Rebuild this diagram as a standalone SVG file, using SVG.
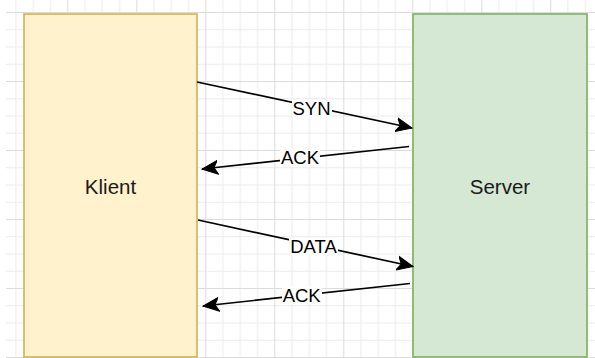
<svg xmlns="http://www.w3.org/2000/svg" width="595" height="358" viewBox="0 0 595 358">
  <style>
    .label { font-family: "Liberation Sans", Arial, sans-serif; fill: #000; text-anchor: middle; dominant-baseline: central; }
    .node-text { font-size: 20.5px; fill: #1a1a1a; }
    .edge-text { font-size: 18.5px; }
    .edge { stroke: #000; stroke-width: 1.7; fill: none; marker-end: url(#arrow); }
    .label-bg { fill: #fff; }
  </style>
  <defs>
    <pattern id="grid" patternUnits="userSpaceOnUse" x="-1.7" y="12" width="69" height="69">
      <rect x="0" y="0" width="69" height="69" fill="#fff"/>
      <g fill="#ececec">
        <rect x="17.25" y="0" width="1" height="69"/>
        <rect x="34.5" y="0" width="1" height="69"/>
        <rect x="51.75" y="0" width="1" height="69"/>
        <rect x="0" y="17.25" width="69" height="1"/>
        <rect x="0" y="34.5" width="69" height="1"/>
        <rect x="0" y="51.75" width="69" height="1"/>
      </g>
      <g fill="#dcdcdc">
        <rect x="0" y="0" width="1" height="69"/>
        <rect x="0" y="0" width="69" height="1"/>
      </g>
    </pattern>
    <marker id="arrow" markerUnits="userSpaceOnUse" markerWidth="18" markerHeight="16" viewBox="0 0 18 16" refX="16" refY="8" orient="auto">
      <path d="M0,1 L16,8 L0,15 L4,8 Z" fill="#000" stroke="#000" stroke-width="1" stroke-linejoin="miter"/>
    </marker>
  </defs>

  <!-- background and drawing grid -->
  <rect x="0" y="0" width="595" height="358" fill="#fff"/>
  <rect x="6" y="0" width="589" height="358" fill="url(#grid)"/>

  <!-- client column -->
  <g id="klient">
    <rect x="24" y="14" width="173" height="343" fill="#fff2cc" stroke="#d6b656" stroke-width="1.7"/>
    <text class="label node-text" x="110.5" y="186">Klient</text>
  </g>

  <!-- server column -->
  <g id="server">
    <rect x="413" y="14" width="174" height="343" fill="#d5e8d4" stroke="#82b366" stroke-width="1.7"/>
    <text class="label node-text" x="500" y="186">Server</text>
  </g>

  <!-- message arrows with labels -->
  <g id="connectors">
    <g id="syn">
      <line class="edge" x1="197" y1="82" x2="412" y2="128"/>
      <rect class="label-bg" x="292" y="100" width="40" height="17"/>
      <text class="label edge-text" x="311.5" y="108.5">SYN</text>
    </g>
    <g id="ack1">
      <line class="edge" x1="409" y1="146.5" x2="202" y2="169"/>
      <rect class="label-bg" x="280" y="149" width="40" height="17"/>
      <text class="label edge-text" x="300" y="157.5">ACK</text>
    </g>
    <g id="data">
      <line class="edge" x1="198" y1="220" x2="413" y2="266.5"/>
      <rect class="label-bg" x="289" y="238" width="49" height="17"/>
      <text class="label edge-text" x="313.5" y="246.5">DATA</text>
    </g>
    <g id="ack2">
      <line class="edge" x1="410" y1="283.5" x2="203" y2="306"/>
      <rect class="label-bg" x="282" y="286.5" width="40" height="17"/>
      <text class="label edge-text" x="301.7" y="295">ACK</text>
    </g>
  </g>
</svg>
